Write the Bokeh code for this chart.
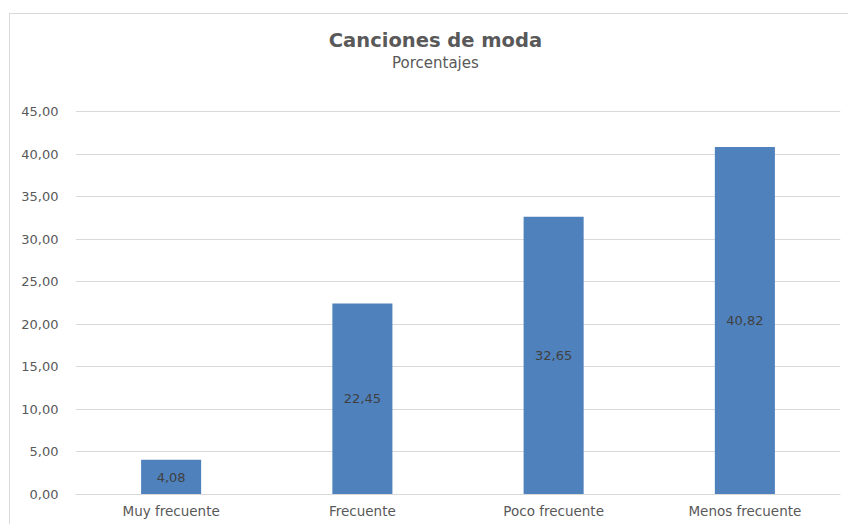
from bokeh.plotting import figure
from bokeh.models import ColumnDataSource, LabelSet, Label, CustomJSTickFormatter, FixedTicker
from bokeh.core.properties import value
from bokeh.embed import file_html
from bokeh.resources import INLINE

# Data
categories = ["Muy frecuente", "Frecuente", "Poco frecuente", "Menos frecuente"]
percentages = [4.08, 22.45, 32.65, 40.82]
y_ticks = [0, 5, 10, 15, 20, 25, 30, 35, 40, 45]
title_text = "Canciones de moda"
subtitle_text = "Porcentajes"

FONT = "DejaVu Sans"
TEXT = "#595959"
BAR = "#4F81BD"
GRID = "#D9D9D9"

source = ColumnDataSource(dict(
    cat=categories,
    val=percentages,
    mid=[v / 2 for v in percentages],
    lbl=[f"{v:.2f}".replace(".", ",") for v in percentages],
))

# The frame reaches the top of the chart so the headings sit inside it;
# ticks and gridlines stop at 45.
p = figure(
    x_range=categories, y_range=(0, 56.4),
    width=839, height=511,
    output_backend="svg", toolbar_location=None,
    min_border_left=65, min_border_right=9,
    min_border_top=0, min_border_bottom=31,
)
p.margin = (13, 0, 0, 9)
p.styles = {"border-left": f"1px solid {GRID}", "border-top": f"1px solid {GRID}"}

p.vbar(x="cat", top="val", width=0.314, source=source, color=BAR, line_color=None)

p.add_layout(LabelSet(x="cat", y="mid", text="lbl", source=source,
                      text_align="center", text_baseline="middle",
                      text_font=value(FONT), text_font_size="13px",
                      text_color="#404040"))

# Chart title and subtitle
p.add_layout(Label(x=1.882, y=53.3,
                   text=title_text, text_align="center", text_baseline="middle",
                   text_font=FONT, text_font_size="19.5px", text_font_style="bold",
                   text_color=TEXT))
p.add_layout(Label(x=1.882, y=50.75,
                   text=subtitle_text, text_align="center", text_baseline="middle",
                   text_font=FONT, text_font_size="15px",
                   text_color=TEXT))

p.outline_line_color = None
p.background_fill_color = "white"
p.border_fill_color = "white"

p.xgrid.grid_line_color = None
p.ygrid.grid_line_color = GRID
p.ygrid.grid_line_width = 1

p.yaxis.ticker = FixedTicker(ticks=y_ticks)
p.yaxis.formatter = CustomJSTickFormatter(code="return tick.toFixed(2).replace('.', ',');")
p.yaxis.axis_line_color = None
p.yaxis.major_tick_line_color = None
p.yaxis.minor_tick_line_color = None
p.yaxis.major_tick_out = 0
p.yaxis.major_label_standoff = 17
p.yaxis.major_label_text_font = FONT
p.yaxis.major_label_text_font_size = "13px"
p.yaxis.major_label_text_color = TEXT

p.xaxis.axis_line_color = GRID
p.xaxis.major_tick_line_color = None
p.xaxis.minor_tick_line_color = None
p.xaxis.major_tick_out = 0
p.xaxis.major_label_standoff = 8
p.xaxis.major_label_text_font = FONT
p.xaxis.major_label_text_font_size = "13.5px"
p.xaxis.major_label_text_color = TEXT

p.x_range.range_padding = 0

open("out.html", "w").write(file_html(p, INLINE))
